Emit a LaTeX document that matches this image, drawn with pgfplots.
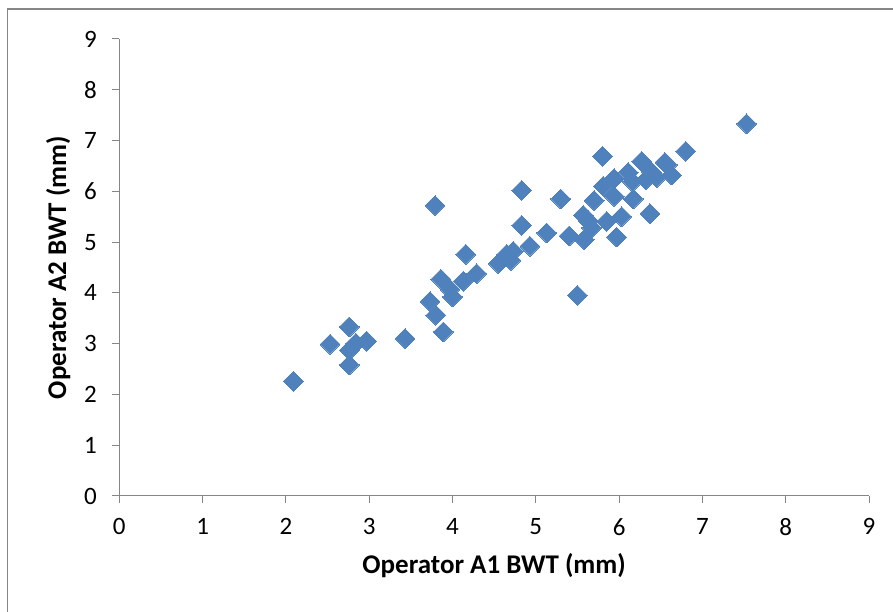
\documentclass[border=0pt]{standalone}
\usepackage{pgfplots}
\pgfplotsset{compat=1.18}
\usepackage{fontspec}
\setmainfont{Carlito}
\definecolor{excelblue}{RGB}{79,129,189}
\definecolor{axisgray}{RGB}{134,134,134}
\definecolor{framegray}{RGB}{134,134,134}
\begin{document}
\begin{tikzpicture}[x=1pt,y=1pt]
\path[use as bounding box] (0,0) rectangle (893,612);
\draw[framegray, line width=1.2pt] (7.5,0) -- (7.5,603) -- (893,603);
\begin{axis}[
  at={(119.3pt,116pt)}, anchor=south west,
  scale only axis, width=749.7pt, height=457pt,
  xmin=0, xmax=9, ymin=0, ymax=9,
  xtick={0,...,9}, ytick={0,...,9},
  axis x line*=bottom, axis y line*=left,
  axis line style={axisgray, line width=1pt, -},
  tick style={axisgray, line width=1pt},
  tick align=outside, major tick length=7pt,
  every tick label/.append style={font=\fontsize{25}{28}\selectfont, text=black},
  /pgf/number format/assume math mode=true,
  xticklabel style={yshift=-12pt},
  yticklabel style={xshift=-12pt},
  xlabel={Operator A1 BWT (mm)},
  ylabel={Operator A2 BWT (mm)},
  every axis label/.append style={font=\bfseries\fontsize{27}{31}\selectfont},
  xlabel style={at={(axis description cs:0.5,-0.153)}, anchor=center},
  ylabel style={at={(axis description cs:-0.0813,0.5)}, anchor=center, rotate=0},
  clip=false,
]
\addplot[only marks, mark=square*, mark size=7pt,
  mark options={rotate=45, fill=excelblue, draw=excelblue, line width=0pt}]
coordinates {
(2.09,2.26) (2.53,2.99) (2.76,3.33) (2.76,2.87) (2.76,2.58) (2.84,3.01)
(2.97,3.05) (3.43,3.10) (3.79,5.72) (3.73,3.83) (3.80,3.56) (3.86,4.27)
(3.89,3.23) (3.97,4.07) (4.00,3.92) (4.13,4.23) (4.16,4.76) (4.29,4.38)
(4.55,4.58) (4.65,4.76) (4.73,4.82) (4.70,4.64) (4.93,4.92) (4.83,6.02)
(4.83,5.33) (5.13,5.18) (5.30,5.85) (5.40,5.12) (5.50,3.95) (5.57,5.53)
(5.58,5.05) (5.63,5.42) (5.67,5.28) (5.70,5.82) (5.80,6.69) (5.81,6.10)
(5.85,5.41) (5.94,5.90) (5.94,6.25) (5.97,5.10) (6.03,5.50) (6.11,6.37)
(6.16,6.19) (6.17,5.85) (6.27,6.59) (6.32,6.23) (6.37,5.56) (6.39,6.38)
(6.45,6.27) (6.55,6.57) (6.58,6.52) (6.63,6.32) (6.80,6.79) (7.53,7.33)
};
\end{axis}
\end{tikzpicture}
\end{document}
